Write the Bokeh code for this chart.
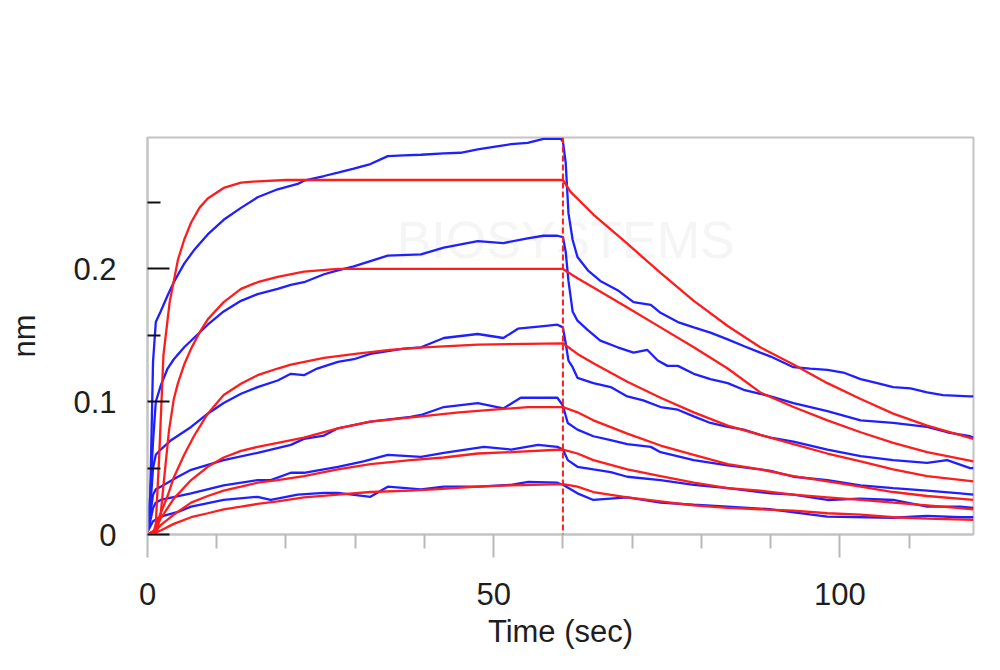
from bokeh.plotting import figure
from bokeh.models import FixedTicker, Span, Range1d, Label
from bokeh.embed import file_html
from bokeh.resources import INLINE

# ---------------- data ----------------
dissociation_start = 60

blue_1_t = [0, 0.4, 0.8, 1.2, 1.9, 2.9, 3.8, 5.3, 6.7, 8.7, 11.0, 13.5, 15.9, 18.8, 21.7, 22.6, 25.5, 27.5, 29.8, 32.2,
            34.7, 37.0, 39.5, 42.8, 45.2, 47.7, 50.0, 52.5, 54.9, 57.2, 59.7, 60.0, 60.4, 60.8, 61.4, 62.1, 63.6, 65.4,
            67.9, 70.2, 72.7, 74.1, 76.6, 78.9, 81.3, 83.8, 86.1, 88.5, 90.0, 93.3, 95.7, 98.2, 100.5, 103.0, 105.4,
            107.7, 110.2, 112.6, 114.9, 118.8, 119.3]
blue_1_nm = [0.002, 0.03, 0.13, 0.160, 0.168, 0.180, 0.190, 0.204, 0.214, 0.226, 0.237, 0.246, 0.254, 0.260, 0.264,
             0.2665, 0.270, 0.2725, 0.2755, 0.279, 0.285, 0.2855, 0.286, 0.287, 0.2875, 0.290, 0.292, 0.294, 0.295,
             0.298, 0.298, 0.296, 0.280, 0.242, 0.222, 0.209, 0.199, 0.191, 0.184, 0.175, 0.173, 0.167, 0.160, 0.156,
             0.152, 0.147, 0.142, 0.137, 0.134, 0.126, 0.125, 0.124, 0.122, 0.117, 0.114, 0.111, 0.110, 0.107, 0.105,
             0.104, 0.104]

blue_2_t = [0, 0.4, 0.8, 1.2, 1.9, 2.9, 3.8, 5.3, 6.7, 8.7, 11.0, 13.5, 15.9, 18.8, 20.7, 22.6, 25.5, 27.5, 29.8,
            34.7, 39.5, 42.8, 47.7, 51.4, 54.9, 57.2, 59.2, 60.0, 60.4, 60.8, 61.4, 62.1, 63.6, 65.4, 67.9, 70.2,
            72.2, 73.7, 75.1, 76.6, 78.9, 81.3, 83.8, 86.1, 88.5, 90.0, 93.3, 98.2, 103.0, 107.7, 112.6, 115.5,
            118.8, 119.3]
blue_2_nm = [0.002, 0.03, 0.07, 0.10, 0.112, 0.125, 0.132, 0.141, 0.148, 0.158, 0.168, 0.176, 0.181, 0.185, 0.188,
             0.190, 0.196, 0.199, 0.202, 0.210, 0.211, 0.216, 0.221, 0.2195, 0.223, 0.225, 0.225, 0.224, 0.213, 0.191,
             0.168, 0.161, 0.154, 0.146, 0.141, 0.137, 0.139, 0.131, 0.127, 0.127, 0.121, 0.117, 0.114, 0.109, 0.106,
             0.104, 0.099, 0.093, 0.086, 0.084, 0.081, 0.077, 0.074, 0.073]

blue_3_t = [0, 0.4, 0.8, 1.2, 1.9, 3.4, 6.3, 8.7, 11.0, 13.5, 15.9, 18.8, 20.7, 22.6, 24.5, 27.5, 29.8, 32.2, 37.0,
            39.5, 42.8, 47.7, 51.4, 53.5, 57.2, 59.2, 60.0, 60.4, 60.8, 61.4, 62.1, 64.4, 66.9, 69.3, 71.6, 74.1,
            76.6, 78.9, 81.3, 83.8, 86.1, 88.5, 90.0, 93.3, 98.2, 103.0, 107.7, 112.6, 115.5, 118.8, 119.3]
blue_3_nm = [0.002, 0.02, 0.05, 0.06, 0.064, 0.071, 0.081, 0.091, 0.099, 0.106, 0.111, 0.116, 0.121, 0.120, 0.125,
             0.130, 0.132, 0.136, 0.140, 0.141, 0.148, 0.151, 0.148, 0.155, 0.157, 0.158, 0.156, 0.144, 0.131, 0.126,
             0.118, 0.114, 0.111, 0.104, 0.101, 0.096, 0.094, 0.089, 0.084, 0.081, 0.079, 0.075, 0.073, 0.070, 0.064,
             0.059, 0.056, 0.054, 0.056, 0.050, 0.050]

blue_4_t = [0, 0.4, 0.8, 1.2, 1.9, 4.4, 6.3, 11.0, 15.9, 20.7, 22.6, 25.5, 27.5, 32.2, 38.0, 39.5, 42.8, 47.7, 51.4,
            53.9, 59.2, 60.0, 60.7, 62.1, 64.4, 66.9, 69.3, 72.7, 74.1, 78.9, 83.8, 90.0, 93.3, 98.2, 103.0, 107.7,
            112.6, 117.4, 119.3]
blue_4_nm = [0.002, 0.015, 0.03, 0.034, 0.036, 0.0435, 0.0487, 0.056, 0.0615, 0.0675, 0.072, 0.0745, 0.080, 0.085,
             0.0886, 0.090, 0.096, 0.099, 0.095, 0.103, 0.103, 0.097, 0.084, 0.079, 0.074, 0.071, 0.068, 0.066, 0.062,
             0.056, 0.052, 0.048, 0.0435, 0.041, 0.037, 0.035, 0.033, 0.031, 0.030]

blue_5_t = [0, 0.4, 0.8, 1.2, 1.9, 6.3, 11.0, 15.9, 17.8, 20.7, 22.6, 27.5, 31.2, 34.7, 39.5, 42.8, 48.6, 52.5, 56.4,
            59.2, 60.0, 60.7, 62.1, 64.4, 66.9, 69.3, 74.1, 78.9, 83.8, 90.0, 93.3, 98.2, 103.0, 107.7, 112.6, 117.4,
            119.3]
blue_5_nm = [0.002, 0.01, 0.02, 0.024, 0.026, 0.031, 0.037, 0.041, 0.041, 0.0465, 0.0465, 0.051, 0.055, 0.060,
             0.0585, 0.0615, 0.066, 0.064, 0.0675, 0.066, 0.064, 0.056, 0.051, 0.049, 0.047, 0.0435, 0.041, 0.0374,
             0.035, 0.031, 0.030, 0.026, 0.027, 0.026, 0.021, 0.021, 0.020]

blue_6_t = [0, 0.4, 0.8, 1.9, 4.4, 6.3, 11.0, 15.9, 17.8, 21.7, 25.5, 27.5, 32.2, 34.7, 39.5, 42.8, 47.7, 52.5, 55.0,
            59.2, 60.0, 62.1, 64.4, 69.3, 74.1, 78.9, 83.8, 90.0, 98.2, 107.7, 112.6, 117.4, 119.3]
blue_6_nm = [0.002, 0.006, 0.010, 0.0134, 0.017, 0.021, 0.026, 0.0284, 0.026, 0.030, 0.0314, 0.0314, 0.0284, 0.036,
             0.034, 0.036, 0.036, 0.0374, 0.0397, 0.039, 0.0375, 0.031, 0.026, 0.028, 0.024, 0.0224, 0.021, 0.019,
             0.0134, 0.0126, 0.014, 0.013, 0.013]

red_1_t = [0, 0.8, 1.2, 1.7, 2.3, 3.2, 4.4, 5.3, 6.3, 7.5, 8.7, 11.0, 13.5, 15.9, 20.0, 60.0, 61.1, 64.4, 69.3, 74.1,
           78.9, 83.8, 88.5, 93.3, 98.2, 103.0, 107.7, 112.6, 119.3]
red_1_nm = [0, 0.0, 0.008, 0.06, 0.135, 0.175, 0.207, 0.222, 0.235, 0.246, 0.253, 0.261, 0.265, 0.266, 0.267, 0.267,
            0.258, 0.241, 0.219, 0.197, 0.176, 0.157, 0.141, 0.128, 0.114, 0.102, 0.091, 0.082, 0.072]

red_2_t = [0, 1.2, 1.9, 2.4, 3.1, 3.8, 4.4, 5.3, 6.3, 7.5, 8.7, 11.0, 13.5, 15.9, 18.8, 22.6, 27.5, 60.0, 62.1, 64.4,
           69.3, 74.1, 78.9, 83.8, 88.5, 93.3, 98.2, 103.0, 107.7, 112.6, 119.3]
red_2_nm = [0, 0.0, 0.015, 0.042, 0.078, 0.102, 0.114, 0.128, 0.140, 0.152, 0.162, 0.175, 0.185, 0.190, 0.194, 0.198,
            0.200, 0.200, 0.193, 0.186, 0.171, 0.156, 0.141, 0.125, 0.107, 0.096, 0.086, 0.077, 0.069, 0.062, 0.055]

red_3_t = [0, 1.0, 1.9, 2.9, 3.8, 5.3, 6.7, 8.7, 11.0, 13.5, 15.9, 18.8, 20.7, 25.5, 30.0, 35.0, 40.0, 47.7, 60.0,
           62.1, 64.4, 69.3, 74.1, 78.9, 83.8, 88.5, 93.3, 98.2, 103.0, 107.7, 112.6, 119.3]
red_3_nm = [0, 0.003, 0.016, 0.029, 0.043, 0.060, 0.074, 0.091, 0.105, 0.1135, 0.120, 0.125, 0.128, 0.133, 0.136,
            0.139, 0.141, 0.143, 0.144, 0.136, 0.129, 0.115, 0.103, 0.092, 0.082, 0.075, 0.068, 0.061, 0.055, 0.049,
            0.044, 0.040]

red_4_t = [0, 1.0, 1.9, 3.8, 6.3, 8.7, 11.0, 13.5, 15.9, 18.8, 22.6, 27.5, 32.2, 39.5, 45.0, 50.0, 55.0, 60.0, 62.1,
           64.4, 69.3, 74.1, 78.9, 83.8, 88.5, 93.3, 98.2, 103.0, 107.7, 112.6, 119.3]
red_4_nm = [0, 0.003, 0.012, 0.027, 0.041, 0.051, 0.058, 0.063, 0.066, 0.069, 0.073, 0.080, 0.085, 0.089, 0.092,
            0.094, 0.096, 0.096, 0.092, 0.086, 0.076, 0.067, 0.060, 0.053, 0.049, 0.044, 0.040, 0.036, 0.032, 0.029,
            0.026]

red_5_t = [0, 1.0, 1.9, 3.8, 6.3, 8.7, 11.0, 13.5, 15.9, 18.8, 22.6, 27.5, 32.2, 38.0, 42.8, 47.7, 52.5, 60.0, 62.1,
           64.4, 69.3, 74.1, 78.9, 83.8, 88.5, 93.3, 98.2, 103.0, 107.7, 112.6, 119.3]
red_5_nm = [0, 0.002, 0.007, 0.015, 0.024, 0.029, 0.033, 0.036, 0.039, 0.041, 0.044, 0.049, 0.053, 0.056, 0.058,
            0.061, 0.062, 0.064, 0.061, 0.056, 0.049, 0.044, 0.039, 0.035, 0.033, 0.030, 0.028, 0.026, 0.024, 0.022,
            0.019]

red_6_t = [0, 1.0, 1.9, 3.8, 6.3, 8.7, 11.0, 13.5, 15.9, 18.8, 22.6, 27.5, 32.2, 38.0, 41.4, 47.7, 52.5, 60.0, 62.1,
           64.4, 69.3, 74.1, 78.9, 83.8, 88.5, 93.3, 98.2, 103.0, 107.7, 112.6, 119.3]
red_6_nm = [0, 0.001, 0.003, 0.008, 0.013, 0.016, 0.019, 0.021, 0.023, 0.025, 0.028, 0.030, 0.032, 0.033, 0.034,
            0.036, 0.037, 0.038, 0.036, 0.032, 0.028, 0.025, 0.022, 0.020, 0.019, 0.018, 0.016, 0.015, 0.013, 0.012,
            0.011]

x_major_ticks = [0, 50, 100]
x_minor_ticks = [10, 20, 30, 40, 60, 70, 80, 90, 110]
y_major_ticks = [0, 0.1, 0.2]
y_minor_ticks = [0.05, 0.15, 0.25]
x_label = "Time (sec)"
y_label = "nm"
watermark = "BIOSYSTEMS"

# ---------------- figure ----------------
FONT = "Liberation Sans"
TXT = "#1e1e1e"
GRID_GREY = "#b9b9b9"

p = figure(width=990, height=668, output_backend="svg", toolbar_location=None,
           x_range=Range1d(0, 119.3), y_range=Range1d(0, 0.299),
           min_border_left=147, min_border_right=17, min_border_top=137, min_border_bottom=134)
p.background_fill_color = "white"
p.border_fill_color = "white"
p.outline_line_color = "#c4c4c4"
p.outline_line_width = 2
p.grid.visible = False

# x axis
xa = p.xaxis[0]
xa.ticker = FixedTicker(ticks=x_major_ticks, minor_ticks=x_minor_ticks)
xa.axis_line_color = "#c4c4c4"
xa.axis_line_width = 2
xa.major_tick_line_color = GRID_GREY
xa.major_tick_line_width = 2
xa.major_tick_in = 0
xa.major_tick_out = 23
xa.minor_tick_line_color = GRID_GREY
xa.minor_tick_line_width = 2
xa.minor_tick_in = 0
xa.minor_tick_out = 14
xa.major_label_text_font = FONT
xa.major_label_text_font_size = "31px"
xa.major_label_text_color = TXT
xa.major_label_standoff = 25
xa.axis_label = x_label
xa.axis_label_text_font = FONT
xa.axis_label_text_font_size = "31px"
xa.axis_label_text_font_style = "normal"
xa.axis_label_text_color = TXT
xa.axis_label_standoff = 6

# y axis
ya = p.yaxis[0]
ya.ticker = FixedTicker(ticks=y_major_ticks, minor_ticks=y_minor_ticks)
ya.axis_line_color = "#c4c4c4"
ya.axis_line_width = 2
ya.major_tick_line_color = "#111111"
ya.major_tick_line_width = 2
ya.major_tick_in = 22
ya.major_tick_out = 0
ya.minor_tick_line_color = "#111111"
ya.minor_tick_line_width = 2
ya.minor_tick_in = 13
ya.minor_tick_out = 0
ya.major_label_text_font = FONT
ya.major_label_text_font_size = "31px"
ya.major_label_text_color = TXT
ya.major_label_standoff = 31
ya.major_label_overrides = {0: "0", 0.1: "0.1", 0.2: "0.2"}
ya.axis_label = y_label
ya.axis_label_text_font = FONT
ya.axis_label_text_font_size = "31px"
ya.axis_label_text_font_style = "normal"
ya.axis_label_text_color = TXT
ya.axis_label_standoff = 28

# very faint watermark, below the curves
p.add_layout(Label(x=60.4, y=0.222, text=watermark, text_font=FONT, text_font_size="52px",
                   text_color="#f5f5f5", text_align="center", text_baseline="middle", level="underlay"))

BLUE = "#1f1fff"
RED = "#ff1c1c"
blues = [(blue_1_t, blue_1_nm), (blue_2_t, blue_2_nm), (blue_3_t, blue_3_nm),
         (blue_4_t, blue_4_nm), (blue_5_t, blue_5_nm), (blue_6_t, blue_6_nm)]
reds = [(red_1_t, red_1_nm), (red_2_t, red_2_nm), (red_3_t, red_3_nm),
        (red_4_t, red_4_nm), (red_5_t, red_5_nm), (red_6_t, red_6_nm)]

for t, v in blues:
    p.line(t, v, line_color=BLUE, line_width=2.3)
for t, v in reds:
    p.line(t, v, line_color=RED, line_width=2.3)

p.add_layout(Span(location=dissociation_start, dimension="height", line_color=RED,
                  line_width=2, line_dash="6 3"))

open("out.html", "w").write(file_html(p, INLINE))
